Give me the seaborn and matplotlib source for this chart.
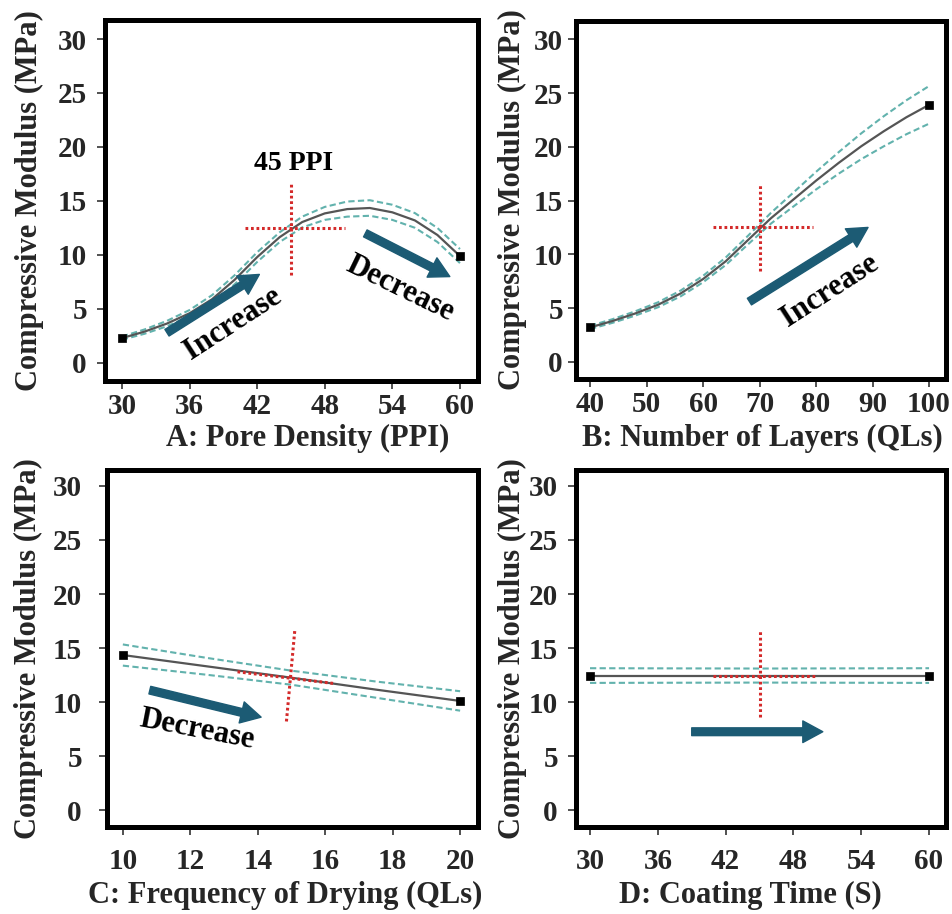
import matplotlib
matplotlib.use("Agg")
import matplotlib.pyplot as plt
import numpy as np
import pandas as pd
import seaborn as sns

# ---------------- data ----------------
# A: pore density response
pore_density = [30, 32, 34, 36, 38, 40, 42, 44, 46, 48, 50, 52, 54, 56, 58, 60]
pore_modulus = [2.3, 2.9, 3.65, 4.6, 5.9, 7.7, 9.8, 11.65, 13.05, 13.85, 14.25, 14.35, 13.95, 13.2, 11.85, 9.9]
pore_ci = [0.15, 0.2, 0.25, 0.3, 0.38, 0.42, 0.45, 0.45, 0.5, 0.6, 0.7, 0.72, 0.7, 0.68, 0.65, 0.65]

# B: number of layers response
layers = [40, 44, 48, 52, 56, 60, 64, 68, 72, 76, 80, 84, 88, 92, 96, 100]
layers_modulus = [3.2, 3.8, 4.5, 5.3, 6.35, 7.7, 9.35, 11.35, 13.35, 15.1, 16.85, 18.5, 20.05, 21.45, 22.75, 23.9]
layers_ci = [0.15, 0.17, 0.2, 0.23, 0.27, 0.3, 0.35, 0.4, 0.5, 0.65, 0.82, 1.0, 1.2, 1.4, 1.58, 1.75]

# C: frequency of drying response
drying = [10, 12.5, 15, 17.5, 20]
drying_modulus = [14.35, 13.3, 12.25, 11.15, 10.1]
drying_ci = [0.98, 0.78, 0.65, 0.75, 0.9]

# D: coating time response
coating = [30, 45, 60]
coating_modulus = [12.45, 12.45, 12.45]
coating_ci = [0.68, 0.65, 0.68]

x_titles = ["A: Pore Density (PPI)", "B: Number of Layers (QLs)",
            "C: Frequency of Drying (QLs)", "D: Coating Time (S)"]
y_title = "Compressive Modulus (MPa)"
x_tick_sets = [[30, 36, 42, 48, 54, 60],
               [40, 50, 60, 70, 80, 90, 100],
               [10, 12, 14, 16, 18, 20],
               [30, 36, 42, 48, 54, 60]]
y_ticks = [0, 5, 10, 15, 20, 25, 30]

# optimum-setting crosshair (bottom/top of vertical arm, ends of horizontal arm)
cross_vx = [(45, 45), (70, 70), (14.85, 15.1), (45, 45)]
cross_vy = [(8.1, 16.8), (8.4, 16.6), (8.2, 16.7), (8.6, 16.7)]
cross_hx = [(40.9, 49.8), (61.7, 79.5), (13.4, 16.3), (40.9, 49.9)]
cross_hy = [(12.5, 12.5), (12.5, 12.5), (12.8, 11.7), (12.45, 12.45)]

# trend arrows: (panel, tail, head)
trend_arrows = [(0, (34.0, 2.8), (42.2, 8.2)),
                (0, (51.6, 12.0), (59.1, 8.0)),
                (1, (68.2, 5.6), (89.2, 12.5)),
                (2, (10.8, 11.1), (14.1, 8.6)),
                (3, (39.0, 7.25), (50.6, 7.25))]
# trend words: (panel, text, x, y, angle, size)
trend_words = [(0, "Increase", 39.9, 3.6, 33, 22),
               (0, "Decrease", 54.7, 6.9, -26, 22),
               (1, "Increase", 82.4, 6.6, 33, 22),
               (2, "Decrease", 12.2, 7.4, -11, 22),
               (0, "45 PPI", 45.2, 18.5, 0, 20)]

# ---------------- style ----------------
sns.set_theme(style="white")
plt.rcParams["font.family"] = ["Liberation Serif", "DejaVu Serif"]
plt.rcParams["font.weight"] = "bold"
plt.rcParams["axes.labelweight"] = "bold"

LINE = "#555555"
BAND = "#62b2ad"
RED = "#d42a2a"
ARROW = "#1c5b74"

W, H = 952, 914
fig = plt.figure(figsize=(W / 100, H / 100), dpi=100)


def px_rect(l, r, t, b):
    return [l / W, 1 - b / H, (r - l) / W, (b - t) / H]


layout = [
    dict(rect=px_rect(105, 478, 20, 381), xlim=(28.5, 61.6), ylim=(-1.67, 31.76),
         xpad=3, ypad=7, ylab_x=-0.1635, xlab=(0.544, -0.118)),
    dict(rect=px_rect(576, 946, 21, 379), xlim=(37.5, 103.0), ylim=(-1.6, 31.7),
         xpad=3, ypad=3.4, ylab_x=-0.132, xlab=(0.505, -0.125)),
    dict(rect=px_rect(107, 478, 470, 827), xlim=(9.53, 20.53), ylim=(-1.57, 31.48),
         xpad=9, ypad=12, ylab_x=-0.1725, xlab=(0.48, -0.150)),
    dict(rect=px_rect(576, 946, 470, 827), xlim=(28.76, 61.5), ylim=(-1.57, 31.48),
         xpad=9, ypad=7, ylab_x=-0.132, xlab=(0.47, -0.152)),
]

series = [(pore_density, pore_modulus, pore_ci),
          (layers, layers_modulus, layers_ci),
          (drying, drying_modulus, drying_ci),
          (coating, coating_modulus, coating_ci)]

axes = []
for i, (lay, (xs, ys, ci)) in enumerate(zip(layout, series)):
    ax = fig.add_axes(lay["rect"])
    axes.append(ax)
    df = pd.DataFrame({"x": xs, "y": ys})
    df["lo"] = df["y"] - np.asarray(ci)
    df["hi"] = df["y"] + np.asarray(ci)

    for col in ("hi", "lo"):
        sns.lineplot(data=df, x="x", y=col, ax=ax, color=BAND, lw=1.5,
                     linestyle=(0, (3, 1.6)), zorder=2)
    sns.lineplot(data=df, x="x", y="y", ax=ax, color=LINE, lw=1.6, zorder=3)
    sns.scatterplot(data=df.iloc[[0, -1]], x="x", y="y", ax=ax, marker="s",
                    s=32, color="black", edgecolor="black", linewidth=0.5, zorder=6)

    # crosshair at the optimum setting
    ax.plot(cross_vx[i], cross_vy[i], color=RED, lw=2.2,
            linestyle=(0, (0.9, 0.9)), zorder=4)
    ax.plot(cross_hx[i], cross_hy[i], color=RED, lw=2.2,
            linestyle=(0, (0.9, 0.9)), zorder=4)

    ax.set_xlim(*lay["xlim"])
    ax.set_ylim(*lay["ylim"])
    ax.set_xticks(x_tick_sets[i])
    ax.set_yticks(y_ticks)
    ax.tick_params(axis="both", which="major", direction="out", length=6,
                   width=1.2, color="#333333", labelsize=21, bottom=True, left=True)
    ax.tick_params(axis="x", pad=lay["xpad"])
    ax.tick_params(axis="y", pad=lay["ypad"])
    for lbl in ax.get_xticklabels() + ax.get_yticklabels():
        lbl.set_fontweight("bold")

    ax.set_xlabel(x_titles[i], fontsize=22, fontweight="bold")
    ax.set_ylabel(y_title, fontsize=22, fontweight="bold")
    ax.xaxis.set_label_coords(*lay["xlab"])
    ax.yaxis.set_label_coords(lay["ylab_x"], 0.5)

    for sp in ax.spines.values():
        sp.set_visible(True)
        sp.set_linewidth(3.6)
        sp.set_color("black")
    ax.grid(False)

for p, tail, head in trend_arrows:
    axes[p].annotate("", xy=head, xytext=tail,
                     arrowprops=dict(arrowstyle="simple,head_length=0.72,head_width=0.78,tail_width=0.28",
                                     color=ARROW, shrinkA=0, shrinkB=0, mutation_scale=20),
                     zorder=5)

for p, txt, x, y, ang, size in trend_words:
    axes[p].text(x, y, txt, rotation=ang, ha="center", va="center",
                 fontsize=size, fontweight="bold", color="black", zorder=7)

fig.savefig("out.png", dpi=100)
